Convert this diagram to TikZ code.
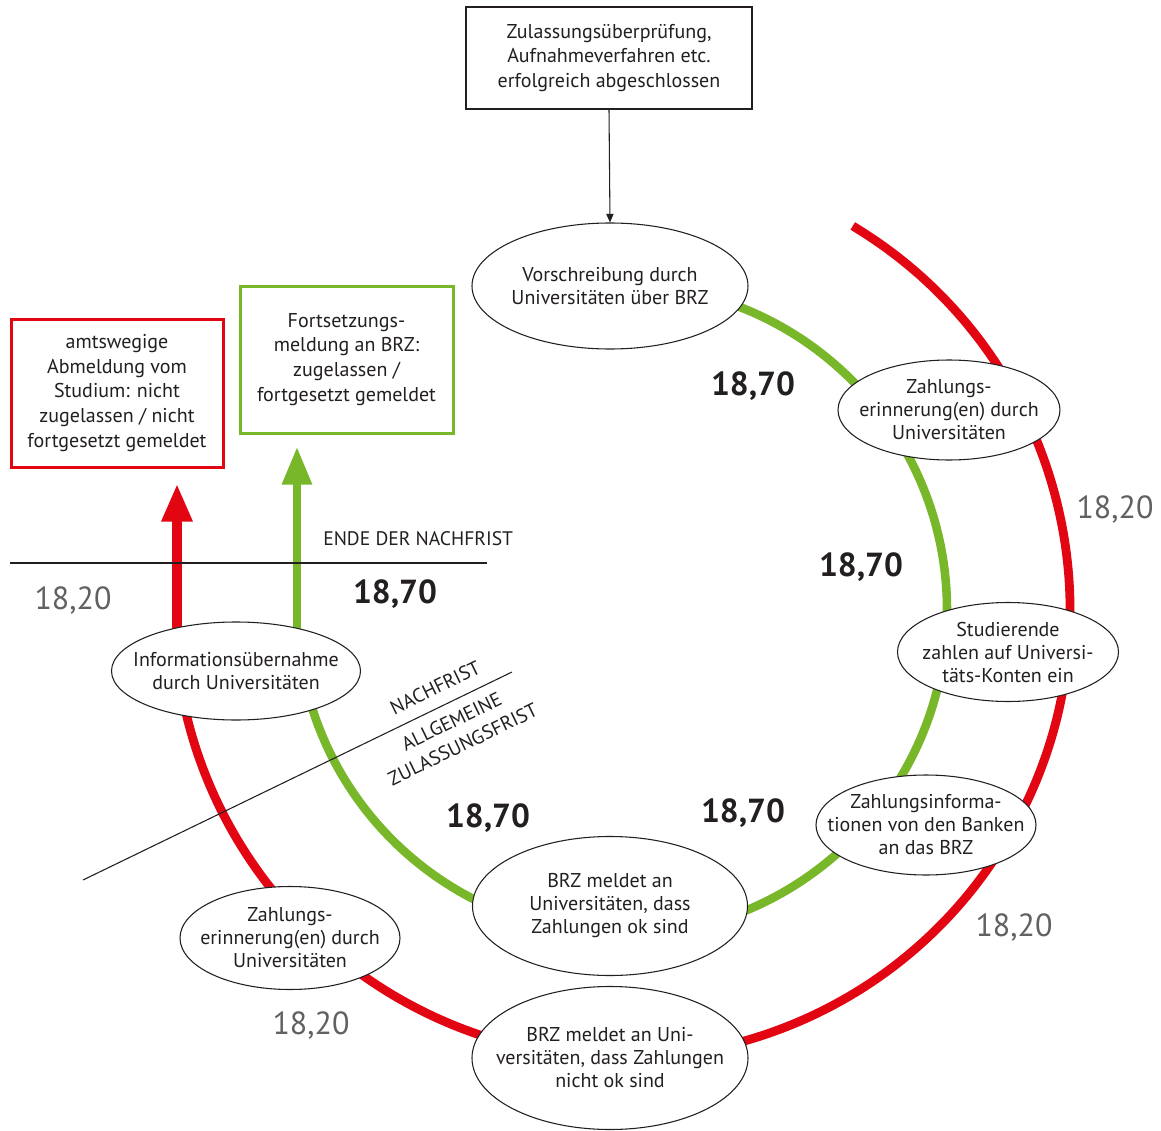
\documentclass[tikz,border=0pt]{standalone}
\usepackage{fontspec}
\setmainfont{PT Sans}
\usetikzlibrary{arrows.meta,shapes.geometric}
\definecolor{cred}{RGB}{226,6,19}
\definecolor{cgreen}{RGB}{120,183,42}
\definecolor{ctext}{RGB}{35,31,32}
\def\px{0.75pt}
\begin{document}
\begin{tikzpicture}[x=0.75pt,y=0.75pt,
  every node/.style={text=ctext, font=\fontsize{15}{17.25}\selectfont},
  ell/.style={ellipse, draw=ctext, line width=0.8pt, fill=white, inner xsep=-40pt, inner ysep=-30pt, align=center},
  boxfont/.style={font=\fontsize{15}{18.6}\selectfont},
  capslabel/.style={font=\fontsize{14.7}{19.2}\selectfont, inner sep=0pt},
  boldnum/.style={font=\fontsize{25}{30}\selectfont\bfseries, inner sep=0pt},
  lightnum/.style={font=\fontsize{24}{30}\selectfont, text=black!62, inner sep=0pt},
  redline/.style={cred, line width=6.6pt},
  greenline/.style={cgreen, line width=6.4pt},
  thinline/.style={ctext, line width=0.8pt}]
\useasboundingbox (0,0) rectangle (1161,-1131);
\fill[white] (0,0) rectangle (1161,-1131);

\coordinate (C) at (622,-610);
% arcs
\draw[greenline] ([shift={(90:325)}]C) arc[start angle=90, end angle=-165, radius=325];
\draw[redline] ([shift={(59:448)}]C) arc[start angle=59, end angle=-168, radius=448];

% boxes
\node[draw=ctext, line width=0.8pt, minimum width=286*\px, minimum height=102*\px, align=center, inner sep=0pt, boxfont] (top) at (609,-58)
  {Zulassungsüberprüfung,\\Aufnahmeverfahren etc.\\erfolgreich abgeschlossen};
\node[draw=cred, line width=3*\px, minimum width=212*\px, minimum height=148*\px, align=center, inner sep=0pt, fill=white, boxfont] (rbox) at (117,-393)
  {amtswegige\\Abmeldung vom\\Studium: nicht\\zugelassen / nicht\\fortgesetzt gemeldet};
\node[draw=cgreen, line width=3*\px, minimum width=213*\px, minimum height=147*\px, align=center, inner sep=0pt, fill=white, boxfont] (gbox) at (346.5,-359.5)
  {Fortsetzungs-\\meldung an BRZ:\\zugelassen /\\fortgesetzt gemeldet};

% vertical arrows
\coordinate (ra) at (177,-675);
\coordinate (ga) at (297,-665);
\draw[redline, line width=7.2pt, -{Triangle[width=21.5pt,length=28.5pt]}, shorten >=11.25pt] (ra) -- (ra |- rbox.south);
\draw[greenline, -{Triangle[width=21pt,length=28.5pt]}, shorten >=9pt] (ga) -- (ga |- gbox.south);

% thin lines
\coordinate (h1) at (10,-563);
\coordinate (h2) at (487,-563);
\draw[thinline] (h1) -- (h2);
\coordinate (d1) at (83,-880);
\coordinate (d2) at (512,-672);
\draw[thinline] (d1) -- (d2);

% ellipses
\node[ell, minimum width=276*\px, minimum height=126*\px] (vor) at (610,-286) {Vorschreibung durch\\Universitäten über BRZ};
\node[ell, minimum width=222*\px, minimum height=100*\px] (zer) at (949,-410) {Zahlungs-\\erinnerung(en) durch\\Universitäten};
\node[ell, minimum width=221*\px, minimum height=99*\px] (stu) at (1008,-652) {Studierende\\zahlen auf Universi-\\täts-Konten ein};
\node[ell, minimum width=220*\px, minimum height=100*\px] (zin) at (926,-825) {Zahlungsinforma-\\tionen von den Banken\\an das BRZ};
\node[ell, minimum width=275*\px, minimum height=139*\px] (brzok) at (610,-906) {BRZ meldet an\\Universitäten, dass\\Zahlungen ok sind};
\node[ell, minimum width=276*\px, minimum height=143*\px] (brznok) at (610,-1058) {BRZ meldet an Uni-\\versitäten, dass Zahlungen\\nicht ok sind};
\node[ell, minimum width=220*\px, minimum height=103*\px] (zel) at (290,-938) {Zahlungs-\\erinnerung(en) durch\\Universitäten};
\node[ell, minimum width=249*\px, minimum height=98*\px] (info) at (236,-671) {Informationsübernahme\\durch Universitäten};

\draw[thinline, -{Triangle[width=5.5pt,length=6.5pt]}] (top.south) -- (vor.north);

% labels
\node[capslabel, anchor=base west] (ende) at (323,-545) {ENDE DER NACHFRIST};
\node[capslabel, rotate=25.9, align=center] (frist) at (449,-716) {NACHFRIST\\[9pt]ALLGEMEINE\\ZULASSUNGSFRIST};

\node[boldnum] (n1) at (753,-386) {18,70};
\node[boldnum] (n2) at (861,-567) {18,70};
\node[boldnum] (n3) at (395,-594) {18,70};
\node[boldnum] (n4) at (488,-818) {18,70};
\node[boldnum] (n5) at (743,-813) {18,70};

\node[lightnum] (l1) at (1115,-509) {18,20};
\node[lightnum] (l2) at (1014,-927) {18,20};
\node[lightnum] (l3) at (73,-600) {18,20};
\node[lightnum] (l4) at (311,-1025) {18,20};
\end{tikzpicture}
\end{document}
